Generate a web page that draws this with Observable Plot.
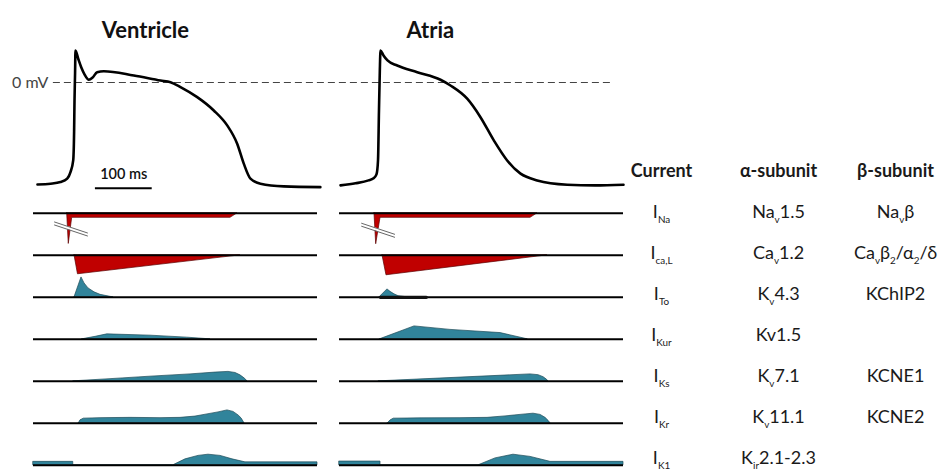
<!DOCTYPE html>
<html>
<head>
<meta charset="utf-8">
<script src="https://cdn.jsdelivr.net/npm/d3@7"></script>
<script src="https://cdn.jsdelivr.net/npm/@observablehq/plot@0.6"></script>
<style>
  html, body { margin: 0; padding: 0; background: white; overflow: hidden; }
  #wrap { position: relative; width: 940px; height: 470px; overflow: hidden; background: white; font-family: Lato, "Open Sans", sans-serif; }
  #ap, #cur, #tab { position: absolute; left: 0; }
  #ap { top: 0; }
  #cur { top: 174px; }
  #tab { top: 0; }
</style>
</head>
<body>
<div id="wrap"><div id="ap"></div><div id="cur"></div><div id="tab"></div></div>
<script>
// ---------- data ----------
const panels = ["Ventricle", "Atria"];
const currents = ["INa", "ICaL", "ITo", "IKur", "IKs", "IKr", "IK1"];
const inwardCurrents = ["INa", "ICaL"];
const tableColumns = ["Current", "α-subunit", "β-subunit"];
const currentLabels = ["I_{Na}", "I_{ca,L}", "I_{To}", "I_{Kur}", "I_{Ks}", "I_{Kr}", "I_{K1}"];
const alphaSubunits = ["Na_{v}1.5", "Ca_{v}1.2", "K_{v}4.3", "Kv1.5", "K_{v}7.1", "K_{v}11.1", "K_{ir}2.1-2.3"];
const betaSubunits = ["Na_{v}β", "Ca_{v}β_{2}/α_{2}/δ", "KChIP2", "", "KCNE1", "KCNE2", ""];

// action potentials: [time ms, membrane potential mV]
const ventricleAP = [[7,-83.4],[30,-82.8],[47.5,-81.5],[59.3,-78.7],[65.1,-73.3],[69.9,-63.8],[71.5,-40],[72.2,-14.7],[73.2,8],[73.9,26.2],[79,19],[84,12.5],[90,6.5],[97.4,2.2],[104,4],[112,8.4],[123.8,9.2],[176.6,5.7],[223.6,1.6],[241.2,0.2],[258.8,-3.8],[288.2,-12],[317.4,-22.9],[341,-35.1],[358.6,-50.1],[370.2,-66.4],[382,-78.7],[399.6,-82.8],[440.7,-85],[505,-85.6]];
const atriaAP = [[1.8,-84.2],[28.2,-82.5],[51.1,-80.1],[59.9,-78.4],[65.1,-75.2],[67.8,-63.8],[69.5,-22.9],[71,9.8],[72.2,26.2],[77.5,22.1],[84.5,18],[101.6,13.9],[136.8,8.4],[177.8,2.2],[195.4,-2.5],[224.8,-13.3],[248.2,-28.4],[271.7,-47.4],[295.2,-63.8],[318.7,-74.6],[348.1,-80.1],[400.9,-83.6],[450,-84.2],[500,-83.6]];
const scaleBarMs = [109, 209];

// currents: [time ms, relative amplitude] (negative = inward)
const vINa  = [[59.3,0],[62.1,-3.07],[68.1,-0.45],[346.8,-0.45],[359.2,0]];
const aINa  = [[61.6,0],[64.6,-3.1],[72.2,-0.45],[336.3,-0.45],[348.6,0]];
const vICaL = [[72.2,0],[78.3,-1.9],[364.4,0]];
const aICaL = [[75.7,0],[82.7,-2.0],[366.2,0]];
const vITo  = [[72.2,0],[84.5,2.0],[89.8,1.4],[96.8,0.9],[107.4,0.5],[118,0.25],[135.6,0.05],[141,0]];
const aITo  = [[70.4,0],[84.5,0.8],[89.8,0.55],[96.8,0.3],[103.9,0.12],[116.2,0.03],[125,0]];
const vIKur = [[85.7,0],[109.2,0.25],[129.8,0.5],[206,0.37],[270.6,0.17],[311.6,0]];
const aIKur = [[71,0],[132,1.3],[195.4,0.95],[283.5,0.63],[331.5,0]];
const vIKs  = [[70.4,0],[135.6,0.22],[206,0.47],[276.4,0.7],[320.4,0.88],[343.3,0.95],[355.6,0.84],[364.4,0.6],[371.5,0.3],[376.8,0]];
const aIKs  = [[69.2,0],[195.4,0.33],[336.3,0.7],[350.4,0.62],[359.2,0.42],[364.4,0.2],[368,0]];
const vIKr  = [[79.8,0],[82.7,0.3],[88.6,0.47],[118,0.52],[170.8,0.55],[223.6,0.52],[258.8,0.55],[285.2,0.68],[306.3,0.9],[325.7,1.1],[341.5,1.3],[352.1,1.15],[360.9,0.8],[366.2,0.5],[371.5,0]];
const aIKr  = [[85,0],[90.1,0.3],[95.6,0.47],[142.6,0.5],[213,0.52],[260.6,0.55],[292.3,0.7],[318.7,0.85],[341.5,0.97],[353.9,0.85],[362.7,0.55],[368,0.25],[371.5,0]];
const vIK1  = [[0,0.35],[70,0.35],[70,0],[246,0],[267.6,0.6],[290.5,0.95],[308,1.07],[329.2,0.95],[350.4,0.6],[373.2,0.3],[500,0.3]];
const aIK1  = [[0,0.38],[72.2,0.38],[72.2,0],[244.7,0],[274.6,0.7],[306.3,1.07],[336.3,0.85],[371.5,0.35],[500,0.35]];
const aIToTail = [[72,0],[153,0]];
// axis-break symbol on the I_Na spike: [time ms, upper edge, lower edge]
const vBreak = [[37,-0.87,-1.17],[95,-1.97,-2.27]];
const aBreak = [[39,-1.0,-1.3],[97,-2.1,-2.4]];

// ---------- build tables ----------
const RED = "#c00000", RED_EDGE = "#5a0000", TEAL = "#31849b", TEAL_EDGE = "#1c4a57";
const apData = [
  ...ventricleAP.map(([t, mV]) => ({panel: "Ventricle", t, mV})),
  ...atriaAP.map(([t, mV]) => ({panel: "Atria", t, mV}))
];
const series = {
  Ventricle: {INa: vINa, ICaL: vICaL, ITo: vITo, IKur: vIKur, IKs: vIKs, IKr: vIKr, IK1: vIK1},
  Atria:     {INa: aINa, ICaL: aICaL, ITo: aITo, IKur: aIKur, IKs: aIKs, IKr: aIKr, IK1: aIK1}
};
const currentData = [];
for (const panel of panels) for (const row of currents) {
  for (const [t, amp] of series[panel][row]) currentData.push({panel, row, series: panel + row, t, amp, inward: inwardCurrents.includes(row)});
}
const grid = panels.flatMap(panel => currents.map(row => ({panel, row})));
const breakData = [
  ...vBreak.map(([t, a, b]) => ({panel: "Ventricle", row: "INa", t, a, b})),
  ...aBreak.map(([t, a, b]) => ({panel: "Atria", row: "INa", t, a, b}))
];
const tailData = aIToTail.map(([t, amp]) => ({panel: "Atria", row: "ITo", t, amp}));

const font = 'Lato, "Open Sans", sans-serif';
const fxOpts = {domain: panels, paddingInner: 0.0719, paddingOuter: 0, axis: null};

// ---------- action potential plot ----------
const ap = Plot.plot({
  width: 625, height: 192,
  marginLeft: 33, marginRight: 2, marginTop: 45.3, marginBottom: 0,
  style: {background: "transparent", fontFamily: font, overflow: "visible"},
  fx: fxOpts,
  x: {domain: [0, 500], axis: null},
  y: {domain: [-90, 30], axis: null},
  marks: [
    Plot.ruleY([{panel: "Ventricle"}], {fx: "panel", y: 0, x1: 35, x2: 1016, stroke: "#444", strokeWidth: 1.2, strokeDasharray: "7,4"}),
    Plot.text([{panel: "Ventricle"}], {fx: "panel", x: 35, y: 0, dx: -5, text: () => "0 mV", textAnchor: "end", fontSize: 16, fill: "#444"}),
    Plot.line(apData, {fx: "panel", x: "t", y: "mV", stroke: "black", strokeWidth: 2.6, curve: "monotone-x"}),
    Plot.ruleY([{panel: "Ventricle"}], {fx: "panel", y: -86.5, x1: scaleBarMs[0], x2: scaleBarMs[1], stroke: "black", strokeWidth: 2}),
    Plot.text([{panel: "Ventricle"}], {fx: "panel", x: (scaleBarMs[0] + scaleBarMs[1]) / 2, y: -86.5, dy: -14, text: () => (scaleBarMs[1] - scaleBarMs[0]) + " ms", fontSize: 14.5, fontWeight: 600, fill: "#111"}),
    Plot.text([{panel: "Ventricle", t: 197}, {panel: "Atria", t: 160}], {fx: "panel", x: "t", frameAnchor: "top", dy: -23, text: "panel", fontSize: 22, fontWeight: "bold", fill: "#111"})
  ]
});
document.getElementById("ap").append(ap);

// ---------- ionic currents plot ----------
const cur = Plot.plot({
  width: 625, height: 295,
  marginLeft: 33, marginRight: 2, marginTop: 0, marginBottom: 0,
  style: {background: "transparent", fontFamily: font, overflow: "visible"},
  fx: fxOpts,
  fy: {domain: currents, padding: 0, axis: null},
  x: {domain: [0, 500], axis: null},
  y: {domain: [-0.417, 3.8], axis: null},
  marks: [
    Plot.areaY(currentData.filter(d => d.inward), {fx: "panel", fy: "row", x: "t", y1: 0, y2: "amp", z: "series", fill: RED, stroke: RED_EDGE, strokeWidth: 0.7}),
    Plot.areaY(currentData.filter(d => !d.inward), {fx: "panel", fy: "row", x: "t", y1: 0, y2: "amp", z: "series", fill: TEAL, stroke: TEAL_EDGE, strokeWidth: 0.7}),
    Plot.ruleY(grid, {fx: "panel", fy: "row", y: 0, stroke: "black", strokeWidth: 2}),
    Plot.line(tailData, {fx: "panel", fy: "row", x: "t", y: "amp", stroke: "#111", strokeWidth: 3.2}),
    Plot.areaY(breakData, {fx: "panel", fy: "row", x: "t", y1: "a", y2: "b", z: "panel", fill: "white"}),
    Plot.line(breakData, {fx: "panel", fy: "row", x: "t", y: "a", z: "panel", stroke: "#666", strokeWidth: 1}),
    Plot.line(breakData, {fx: "panel", fy: "row", x: "t", y: "b", z: "panel", stroke: "#666", strokeWidth: 1})
  ]
});
document.getElementById("cur").append(cur);

// ---------- table ----------
const cells = [
  ...tableColumns.map(col => ({row: "header", col, label: col, header: true})),
  ...currents.flatMap((row, i) => [
    {row, col: "Current", label: currentLabels[i]},
    {row, col: "α-subunit", label: alphaSubunits[i]},
    {row, col: "β-subunit", label: betaSubunits[i]}
  ]).filter(d => d.label)
];
const FS = 18;
const tab = Plot.plot({
  width: 940, height: 470, margin: 0,
  style: {background: "transparent", fontFamily: font, overflow: "visible"},
  x: {type: "point", domain: tableColumns, range: [661, 895], padding: 0, axis: null},
  y: {type: "point", domain: ["header", ...currents], range: [168, 460], padding: 0, axis: null},
  marks: [
    Plot.text(cells.filter(d => d.header), {x: "col", y: "row", text: "label", fontSize: FS, fontWeight: "bold", fill: "#1a1a1a"}),
    Plot.text(cells.filter(d => !d.header), {x: "col", y: "row", text: "label", fontSize: FS, fill: "#1a1a1a"})
  ]
});
// turn "_{...}" into real subscripts
const NS = "http://www.w3.org/2000/svg";
tab.querySelectorAll("text").forEach(el => {
  const s = el.textContent;
  if (!s.includes("_{")) return;
  el.textContent = "";
  let down = false;
  for (const part of s.split(/(_\{[^}]*\})/)) {
    if (!part) continue;
    const ts = document.createElementNS(NS, "tspan");
    if (part.startsWith("_{")) {
      ts.textContent = part.slice(2, -1);
      ts.setAttribute("font-size", FS * 0.55);
      if (!down) ts.setAttribute("dy", FS * 0.25);
      down = true;
    } else {
      ts.textContent = part;
      if (down) ts.setAttribute("dy", -FS * 0.25);
      down = false;
    }
    el.appendChild(ts);
  }
});
document.getElementById("tab").append(tab);
</script>
</body>
</html>
